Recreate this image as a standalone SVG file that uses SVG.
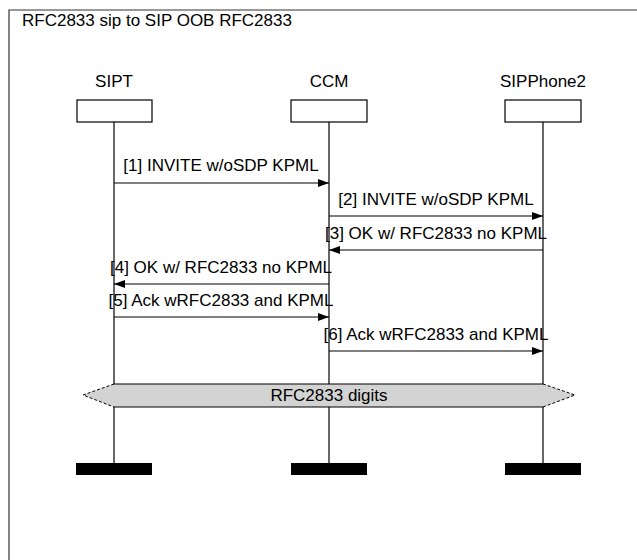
<svg xmlns="http://www.w3.org/2000/svg" width="637" height="560" viewBox="0 0 637 560">
<style>
text{font-family:"Liberation Sans",Arial,sans-serif;font-size:17px;fill:#000}
.c{text-anchor:middle}
.ll{stroke:#000;stroke-width:1.2;fill:none}
.box{fill:#fff;stroke:#000;stroke-width:1.2}
.end{fill:#000}
.msg{stroke:#000;stroke-width:1.2;fill:none;marker-end:url(#ah)}
</style>
<defs>
<marker id="ah" markerWidth="11" markerHeight="8" refX="11" refY="4" orient="auto" markerUnits="userSpaceOnUse">
<path d="M0,0 L11,4 L0,8 Z" fill="#000"/>
</marker>
</defs>
<rect width="637" height="560" fill="#fff"/>
<path d="M9,560 V10 H637" fill="none" stroke="#333" stroke-width="1.2"/>
<text x="22" y="26">RFC2833 sip to SIP OOB RFC2833</text>
<g id="SIPT">
<text class="c" x="114" y="87">SIPT</text>
<rect class="box" x="77" y="100" width="75" height="22"/>
<line class="ll" x1="114" y1="122" x2="114" y2="464"/>
<rect class="end" x="76" y="463" width="76" height="12"/>
</g>
<g id="CCM">
<text class="c" x="329" y="87">CCM</text>
<rect class="box" x="291" y="100" width="76" height="22"/>
<line class="ll" x1="329" y1="122" x2="329" y2="464"/>
<rect class="end" x="291" y="463" width="76" height="12"/>
</g>
<g id="SIPPhone2">
<text class="c" x="543" y="87">SIPPhone2</text>
<rect class="box" x="505" y="100" width="76" height="22"/>
<line class="ll" x1="543" y1="122" x2="543" y2="464"/>
<rect class="end" x="505" y="463" width="76" height="12"/>
</g>
<g id="connectors">
<line class="msg" x1="114" y1="183" x2="329" y2="183"/>
<text class="c" x="221" y="171">[1] INVITE w/oSDP KPML</text>
<line class="msg" x1="329" y1="216" x2="543" y2="216"/>
<text class="c" x="436" y="205">[2] INVITE w/oSDP KPML</text>
<line class="msg" x1="543" y1="250" x2="329" y2="250"/>
<text class="c" x="436" y="239">[3] OK w/ RFC2833 no KPML</text>
<line class="msg" x1="329" y1="284" x2="114" y2="284"/>
<text class="c" x="221" y="273">[4] OK w/ RFC2833 no KPML</text>
<line class="msg" x1="114" y1="317" x2="329" y2="317"/>
<text class="c" x="221" y="306">[5] Ack wRFC2833 and KPML</text>
<line class="msg" x1="329" y1="351" x2="543" y2="351"/>
<text class="c" x="436" y="340">[6] Ack wRFC2833 and KPML</text>
</g>
<g id="rfc2833-digits">
<path d="M83,395 L114,384 H543 L575,395 L543,407 H114 Z" fill="#d3d3d3" stroke="none"/>
<line x1="114" y1="384" x2="543" y2="384" stroke="#000" stroke-width="1.2"/>
<line x1="114" y1="407" x2="543" y2="407" stroke="#000" stroke-width="1.2"/>
<path d="M114,384 L83,395 L114,407 M543,384 L575,395 L543,407" fill="none" stroke="#000" stroke-width="1" stroke-dasharray="3,2"/>
<text class="c" x="329" y="401">RFC2833 digits</text>
</g>
</svg>
